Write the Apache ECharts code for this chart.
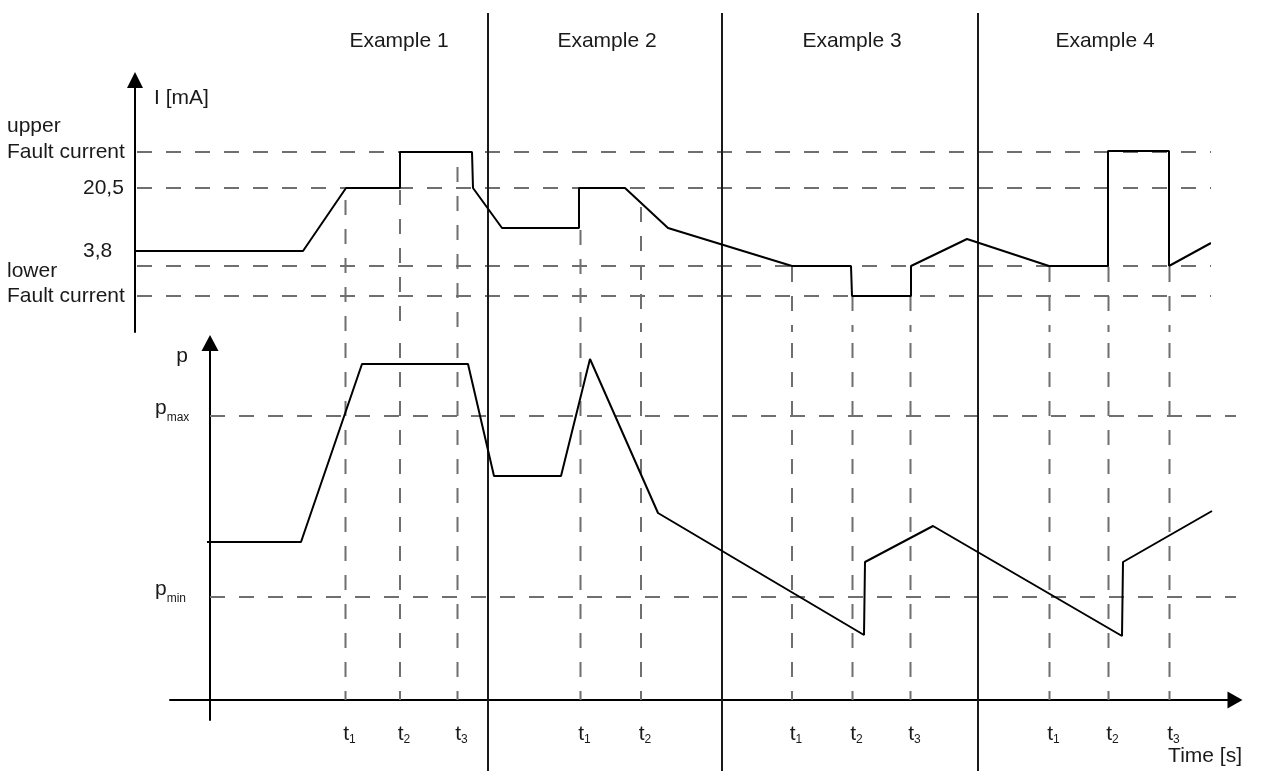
<!DOCTYPE html>
<html>
<head>
<meta charset="utf-8">
<script src="https://cdn.jsdelivr.net/npm/echarts@6/dist/echarts.min.js"></script>
<style>
  html, body { margin: 0; padding: 0; background: #fff; }
  #main { width: 1286px; height: 771px; }
</style>
</head>
<body>
<div id="main"></div>
<script>
// time axis has no numeric scale in the drawing, so it uses arbitrary units
var exampleNames = ['Example 1', 'Example 2', 'Example 3', 'Example 4'];
var exampleCenters = [18.9, 39.7, 64.2, 89.5];
var separatorTimes = [27.8, 51.2, 76.8];

// t1/t2/t3 markers of every example
var markerNames = ['1', '2', '3', '1', '2', '1', '2', '3', '1', '2', '3'];
var markerTimes = [13.55, 19.0, 24.75, 37.05, 43.1, 58.2, 64.25, 70.05, 83.95, 89.85, 95.95];
// level (upper plot) where each dashed marker line begins
var markerStart = [13.2, 14.2, 16.5, 10.2, 12.5, 6.5, 3.6, 3.6, 6.5, 6.5, 6.5];

// current plot, schematic units
var UPPER_FAULT = 18.0, I_20_5 = 14.4, I_3_8 = 6.6, LOWER_FAULT = 3.6;
var currentLevels = [UPPER_FAULT, I_20_5, I_3_8, LOWER_FAULT];
var valueLevels = [I_20_5, I_3_8];
var valueText = ['20,5', '3,8'];
var faultLevels = [UPPER_FAULT, LOWER_FAULT];
var faultText = [['upper', 'Fault current'], ['lower', 'Fault current']];
var CAPTION_X = -20.3;
var currentTime = [-7.5, 9.3, 13.6, 19.0, 19.0, 26.2, 26.3, 29.2, 36.9, 36.9, 41.5, 45.8,
  58.2, 64.1, 64.2, 70.1, 70.1, 75.7, 83.9, 89.8, 89.8, 95.9, 95.9, 100.1];
var currentValue = [8.1, 8.1, 14.4, 14.4, 18.0, 18.0, 14.4, 10.4, 10.4, 14.4, 14.4, 10.4,
  6.6, 6.6, 3.6, 3.6, 6.6, 9.3, 6.6, 6.6, 18.1, 18.1, 6.6, 8.9];

// pressure plot, schematic units
var P_MAX = 28.4, P_MIN = 10.3;
var pressureLevels = [P_MAX, P_MIN];
var pressureLevelSub = ['max', 'min'];
var pressureTime = [-0.3, 9.1, 15.2, 25.8, 28.4, 35.1, 38.0, 44.8, 65.4, 65.5, 72.3, 91.2, 91.3, 100.2];
var pressureValue = [15.8, 15.8, 33.6, 33.6, 22.4, 22.4, 34.1, 18.7, 6.5, 13.8, 17.4, 6.4, 13.8, 18.9];

var FONT = 'Liberation Sans, Arial, sans-serif';
var TXT = '#1a1a1a';

var myChart = echarts.init(document.getElementById('main'));

var dashStyle = { color: '#6f6f6f', width: 2, type: [15, 14] };
var series = [];
function addLine(axis, pts, style, z) {
  series.push({
    type: 'line', xAxisIndex: axis, yAxisIndex: axis, data: pts,
    symbol: 'none', clip: false, silent: true, animation: false,
    lineStyle: style, z: z
  });
}

// horizontal reference levels
currentLevels.forEach(function (v) {
  addLine(0, [[-7.3, v], [100.3, v]], dashStyle, 1);
});
pressureLevels.forEach(function (v) {
  addLine(1, [[0, v], [107.6, v]], dashStyle, 1);
});
// vertical marker lines through both plots
markerTimes.forEach(function (t, i) {
  addLine(0, [[t, markerStart[i]], [t, 0]], dashStyle, 1);
  addLine(1, [[t, 35.7], [t, 0]], dashStyle, 1);
});
// separators between the examples (overlay grid, y = fraction of height)
separatorTimes.forEach(function (t) {
  addLine(2, [[t, 0], [t, 0.983]], { color: '#1a1a1a', width: 2 }, 3);
});
// curves
addLine(0, currentTime.map(function (t, i) { return [t, currentValue[i]]; }),
  { color: '#000', width: 2 }, 5);
addLine(1, pressureTime.map(function (t, i) { return [t, pressureValue[i]]; }),
  { color: '#000', width: 2 }, 5);

// "upper / lower Fault current" captions, left of the current axis
series.push({
  type: 'scatter', xAxisIndex: 0, yAxisIndex: 0, clip: false, silent: true,
  symbolSize: 0, animation: false, itemStyle: { opacity: 1 },
  data: faultLevels.map(function (v, i) {
    return {
      value: [CAPTION_X, v],
      label: {
        show: true, position: 'right', distance: 0,
        offset: [0, i === 0 ? -13 : -12],
        formatter: faultText[i].join('\n'),
        fontSize: 21, lineHeight: i === 0 ? 26 : 25, color: TXT, fontFamily: FONT
      }
    };
  })
});

var hidden = { show: false };

var option = {
  backgroundColor: '#fff',
  animation: false,
  textStyle: { fontFamily: FONT },
  grid: [
    { left: 135, right: 76, top: 80, height: 252 },
    { left: 170, right: 51, top: 343, bottom: 51 },
    { left: 170, right: 51, top: 0, bottom: 0 }
  ],
  xAxis: [
    {
      gridIndex: 0, type: 'value', min: -7.5, max: 100, position: 'top',
      axisLine: { show: false, onZero: false }, axisTick: hidden, splitLine: hidden,
      axisLabel: {
        customValues: exampleCenters, margin: 28, hideOverlap: false,
        fontSize: 21, color: TXT, fontFamily: FONT,
        formatter: function (v) { return exampleNames[exampleCenters.indexOf(v)]; }
      }
    },
    {
      gridIndex: 1, type: 'value', min: -4, max: 102.5,
      axisLine: {
        onZero: true, symbol: ['none', 'triangle'], symbolSize: [17, 15],
        lineStyle: { color: '#000', width: 2 }
      },
      axisTick: hidden, splitLine: hidden,
      axisLabel: {
        customValues: markerTimes, margin: 2, padding: [0, 0, 0, 8], hideOverlap: false,
        formatter: function (v) {
          return '{t|t}{s|' + markerNames[markerTimes.indexOf(v)] + '}';
        },
        rich: {
          t: { fontSize: 21, lineHeight: 24, color: TXT, fontFamily: FONT },
          s: { fontSize: 12, height: 12, verticalAlign: 'bottom', color: TXT, fontFamily: FONT }
        }
      },
      name: 'Time [s]', nameLocation: 'end', nameGap: 7,
      nameTextStyle: { fontSize: 21, color: TXT, fontFamily: FONT, align: 'right', verticalAlign: 'top', padding: [46, 0, 0, 0] }
    },
    { gridIndex: 2, type: 'value', min: -4, max: 102.5, show: false }
  ],
  yAxis: [
    {
      gridIndex: 0, type: 'value', min: 0, max: 25.2,
      axisLine: {
        show: true, onZero: false, symbol: ['none', 'triangle'], symbolSize: [16, 16],
        lineStyle: { color: '#000', width: 2 }
      },
      axisTick: hidden, splitLine: hidden,
      axisLabel: {
        customValues: valueLevels, align: 'left', margin: 52, hideOverlap: false,
        formatter: function (v) {
          var s = valueText[valueLevels.indexOf(v)];
          // "3,8" sits a little above its dashed line
          if (v === I_3_8) return '{m|' + s + '}\n{m| }';
          return '{n|' + s + '}';
        },
        rich: {
          n: { fontSize: 21, lineHeight: 26, color: TXT, fontFamily: FONT },
          m: { fontSize: 21, lineHeight: 30, color: TXT, fontFamily: FONT }
        }
      },
      name: 'I [mA]', nameLocation: 'end', nameGap: -18,
      nameTextStyle: { fontSize: 21, color: TXT, fontFamily: FONT, align: 'left', verticalAlign: 'middle', padding: [0, 0, 0, 19] }
    },
    {
      gridIndex: 1, type: 'value', min: -2, max: 35.7,
      axisLine: {
        show: true, onZero: true, symbol: ['none', 'triangle'], symbolSize: [17, 16],
        lineStyle: { color: '#000', width: 2 }
      },
      axisTick: hidden, splitLine: hidden,
      axisLabel: {
        customValues: pressureLevels, align: 'left', margin: 15, padding: [0, 0, 16, 0], hideOverlap: false,
        formatter: function (v) {
          return '{p|p}{s|' + pressureLevelSub[pressureLevels.indexOf(v)] + '}';
        },
        rich: {
          p: { fontSize: 21, lineHeight: 24, color: TXT, fontFamily: FONT },
          s: { fontSize: 12, height: 4, verticalAlign: 'bottom', color: TXT, fontFamily: FONT }
        }
      },
      name: 'p', nameLocation: 'end', nameGap: -13,
      nameTextStyle: { fontSize: 21, color: TXT, fontFamily: FONT, align: 'right', verticalAlign: 'middle', padding: [0, 22, 0, 0] }
    },
    { gridIndex: 2, type: 'value', min: 0, max: 1, show: false }
  ],
  series: series
};

myChart.setOption(option);
</script>
</body>
</html>
